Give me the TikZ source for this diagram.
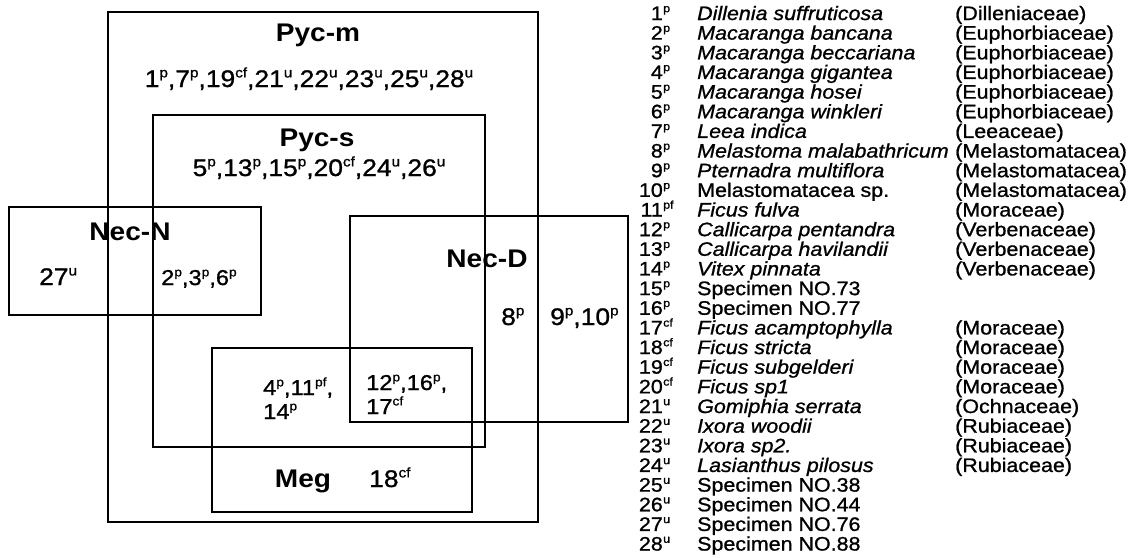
\documentclass[tikz,border=0pt]{standalone}
\usepackage{fontspec}
\setmainfont{Liberation Sans}[FakeStretch=1.1,UprightFeatures={FakeBold=1.0},ItalicFeatures={FakeBold=1.0}]
\usepackage{graphicx}
\newcommand\supr[1]{\raisebox{0.40em}{\scalebox{0.58}{#1}}}
\newcommand\lrow[4]{%
  \node[lst,anchor=base east] (num#1) at (663,{20+(#1-1)*19.65}) {#1};
  \node[lst,anchor=base west] (sup#1) at (num#1.base east) {\supr{#2}};
  \node[lst,anchor=base west] (sp#1) at (697,{20+(#1-1)*19.65}) {#3};
  \node[lst,anchor=base west] (fam#1) at (955,{20+(#1-1)*19.65}) {#4};
}
\newcommand\lrowx[3]{%
  \node[lst,anchor=base east] (num#1) at (663,{20+(#1-1)*19.65}) {#1};
  \node[lst,anchor=base west] (sup#1) at (num#1.base east) {\supr{#2}};
  \node[lst,anchor=base west] (sp#1) at (697,{20+(#1-1)*19.65}) {#3};
}
\begin{document}
\begin{tikzpicture}[x=1pt,y=-1pt,
  box/.style={draw=black,line width=1.6pt},
  lab/.style={inner sep=0pt,font=\fontsize{25.5}{25.5}\selectfont\bfseries},
  num/.style={inner sep=0pt,font=\fontsize{24}{20}\selectfont},
  nums/.style={inner sep=0pt,font=\fontsize{21.5}{20}\selectfont},
  lst/.style={inner sep=0pt,font=\fontsize{19.5}{19.5}\selectfont}]
\useasboundingbox[fill=white] (0,0) rectangle (1140,557);

% boxes
\draw[box] (108,12) rectangle (538,522);
\draw[box] (153,115) rectangle (485,447);
\draw[box] (9,207) rectangle (261,315);
\draw[box] (350,216) rectangle (628,422);
\draw[box] (212,348) rectangle (472,512);

% diagram texts
\node[lab,anchor=base] (tpycm) at (318,41) {Pyc-m};
\node[num,anchor=base] (npycm) at (309,87) {1\supr{p},7\supr{p},19\supr{cf},21\supr{u},22\supr{u},23\supr{u},25\supr{u},28\supr{u}};
\node[lab,anchor=base] (tpycs) at (317,146) {Pyc-s};
\node[num,anchor=base] (npycs) at (319,176) {5\supr{p},13\supr{p},15\supr{p},20\supr{cf},24\supr{u},26\supr{u}};
\node[lab,anchor=base] (tnecn) at (130,240) {Nec-N};
\node[num,anchor=base west] (n27) at (39,285) {27\supr{u}};
\node[nums,anchor=base west] (n236) at (161,285) {2\supr{p},3\supr{p},6\supr{p}};
\node[lab,anchor=base] (tnecd) at (487,267) {Nec-D};
\node[num,anchor=base west] (n8) at (501,325) {8\supr{p}};
\node[num,anchor=base west] (n910) at (550,325) {9\supr{p},10\supr{p}};
\node[nums,anchor=base west] (n4) at (263,395) {4\supr{p},11\supr{pf},};
\node[nums,anchor=base west] (n14) at (263,419) {14\supr{p}};
\node[nums,anchor=base west] (n12) at (366,390) {12\supr{p},16\supr{p},};
\node[nums,anchor=base west] (n17) at (366,414) {17\supr{cf}};
\node[lab,anchor=base] (tmeg) at (303,487) {Meg};
\node[num,anchor=base west] (n18) at (369,487) {18\supr{cf}};

% species list
\lrow{1}{p}{\itshape Dillenia suffruticosa}{(Dilleniaceae)}
\lrow{2}{p}{\itshape Macaranga bancana}{(Euphorbiaceae)}
\lrow{3}{p}{\itshape Macaranga beccariana}{(Euphorbiaceae)}
\lrow{4}{p}{\itshape Macaranga gigantea}{(Euphorbiaceae)}
\lrow{5}{p}{\itshape Macaranga hosei}{(Euphorbiaceae)}
\lrow{6}{p}{\itshape Macaranga winkleri}{(Euphorbiaceae)}
\lrow{7}{p}{\itshape Leea indica}{(Leeaceae)}
\lrow{8}{p}{\itshape Melastoma malabathricum}{(Melastomatacea)}
\lrow{9}{p}{\itshape Pternadra multiflora}{(Melastomatacea)}
\lrow{10}{p}{Melastomatacea sp.}{(Melastomatacea)}
\lrow{11}{pf}{\itshape Ficus fulva}{(Moraceae)}
\lrow{12}{p}{\itshape Callicarpa pentandra}{(Verbenaceae)}
\lrow{13}{p}{\itshape Callicarpa havilandii}{(Verbenaceae)}
\lrow{14}{p}{\itshape Vitex pinnata}{(Verbenaceae)}
\lrowx{15}{p}{Specimen NO.73}
\lrowx{16}{p}{Specimen NO.77}
\lrow{17}{cf}{\itshape Ficus acamptophylla}{(Moraceae)}
\lrow{18}{cf}{\itshape Ficus stricta}{(Moraceae)}
\lrow{19}{cf}{\itshape Ficus subgelderi}{(Moraceae)}
\lrow{20}{cf}{\itshape Ficus sp1}{(Moraceae)}
\lrow{21}{u}{\itshape Gomiphia serrata}{(Ochnaceae)}
\lrow{22}{u}{\itshape Ixora woodii}{(Rubiaceae)}
\lrow{23}{u}{\itshape Ixora sp2.}{(Rubiaceae)}
\lrow{24}{u}{\itshape Lasianthus pilosus}{(Rubiaceae)}
\lrowx{25}{u}{Specimen NO.38}
\lrowx{26}{u}{Specimen NO.44}
\lrowx{27}{u}{Specimen NO.76}
\lrowx{28}{u}{Specimen NO.88}
\end{tikzpicture}
\end{document}
